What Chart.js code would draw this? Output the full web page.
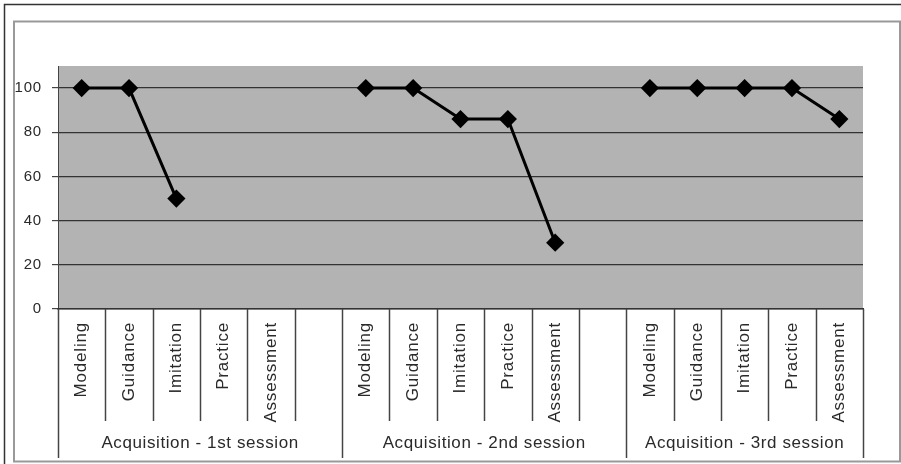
<!DOCTYPE html>
<html>
<head>
<meta charset="utf-8">
<script src="https://cdn.jsdelivr.net/npm/chart.js@4"></script>
<style>
  html, body { margin: 0; padding: 0; background: #fff; }
  #wrap { width: 901px; height: 464px; position: relative; }
</style>
</head>
<body>
<div id="wrap"><canvas id="chart"></canvas></div>
<script>
// phases per session, '' is the empty slot between sessions
const phases = ['Modeling', 'Guidance', 'Imitation', 'Practice', 'Assessment'];
const labels = [...phases, '', ...phases, '', ...phases];
const sessions = ['Acquisition - 1st session', 'Acquisition - 2nd session', 'Acquisition - 3rd session'];

const session1 = [100, 100, 50, null, null];
const session2 = [100, 100, 86, 86, 30];
const session3 = [100, 100, 100, 100, 86];
const values = [...session1, null, ...session2, null, ...session3];

const yTicks = [0, 20, 40, 60, 80, 100];

const font = "'Liberation Sans', Arial, sans-serif";

// frames, separators under the axis and the session labels
const decorations = {
  id: 'decorations',
  beforeDraw(chart) {
    const ctx = chart.ctx;
    ctx.save();
    ctx.fillStyle = '#fff';
    ctx.fillRect(0, 0, chart.width, chart.height);
    ctx.strokeStyle = '#333';
    ctx.lineWidth = 1.5;
    ctx.strokeRect(4.5, 4.5, 905, 470);
    ctx.strokeStyle = '#999';
    ctx.lineWidth = 2;
    ctx.strokeRect(14, 21.5, 886, 440);
    const a = chart.chartArea;
    ctx.fillStyle = '#b3b3b3';
    ctx.fillRect(a.left, a.top, a.right - a.left, a.bottom - a.top);
    ctx.restore();
    // the original text is a little spaced out
    ctx.letterSpacing = '0.8px';
  },
  afterDraw(chart) {
    const ctx = chart.ctx;
    const x = chart.scales.x;
    const a = chart.chartArea;
    const w = x.getPixelForValue(1) - x.getPixelForValue(0);
    ctx.save();
    ctx.strokeStyle = '#444';
    ctx.lineWidth = 1.5;
    for (let i = 0; i <= labels.length; i++) {
      const px = Math.round(x.getPixelForValue(i) - w / 2) + 0.5;
      const isGroup = i === 0 || i === 6 || i === 12 || i === labels.length;
      ctx.beginPath();
      ctx.moveTo(px, a.bottom);
      ctx.lineTo(px, isGroup ? 458 : 421);
      ctx.stroke();
    }
    ctx.fillStyle = '#2a2a2a';
    ctx.font = '17px ' + font;
    ctx.letterSpacing = '0.6px';
    ctx.textAlign = 'center';
    ctx.textBaseline = 'middle';
    const bounds = [[0, 6], [6, 12], [12, 17]];
    sessions.forEach((s, k) => {
      const l = x.getPixelForValue(bounds[k][0]) - w / 2;
      const r = x.getPixelForValue(bounds[k][1]) - w / 2;
      ctx.fillText(s, (l + r) / 2, 443);
    });
    ctx.restore();
    ctx.letterSpacing = '0px';
  }
};

new Chart(document.getElementById('chart'), {
  type: 'line',
  data: {
    labels: labels,
    datasets: [{
      data: values,
      borderColor: '#000',
      backgroundColor: '#000',
      borderWidth: 3,
      pointStyle: 'rectRot',
      pointRadius: 7,
      pointHoverRadius: 7,
      spanGaps: false,
      tension: 0
    }]
  },
  options: {
    responsive: true,
    maintainAspectRatio: false,
    animation: false,
    layout: { padding: { left: 0, top: 66, right: 38, bottom: 0 } },
    plugins: { legend: { display: false }, tooltip: { enabled: false } },
    scales: {
      y: {
        min: 0,
        max: 110,
        afterBuildTicks: scale => { scale.ticks = yTicks.map(v => ({ value: v })); },
        afterFit: scale => { scale.width = 58; },
        border: { display: true, color: '#444', width: 1 },
        grid: { color: '#333', lineWidth: 1.2, tickLength: 6, tickColor: '#444' },
        ticks: { color: '#2a2a2a', padding: 10, font: { family: font, size: 15 } }
      },
      x: {
        offset: true,
        afterFit: scale => { scale.height = 155; },
        border: { display: true, color: '#333', width: 1.5 },
        grid: { display: false },
        ticks: {
          autoSkip: false,
          minRotation: 90,
          maxRotation: 90,
          padding: 5,
          color: '#2a2a2a',
          font: { family: font, size: 17 }
        }
      }
    }
  },
  plugins: [decorations]
});
</script>
</body>
</html>
